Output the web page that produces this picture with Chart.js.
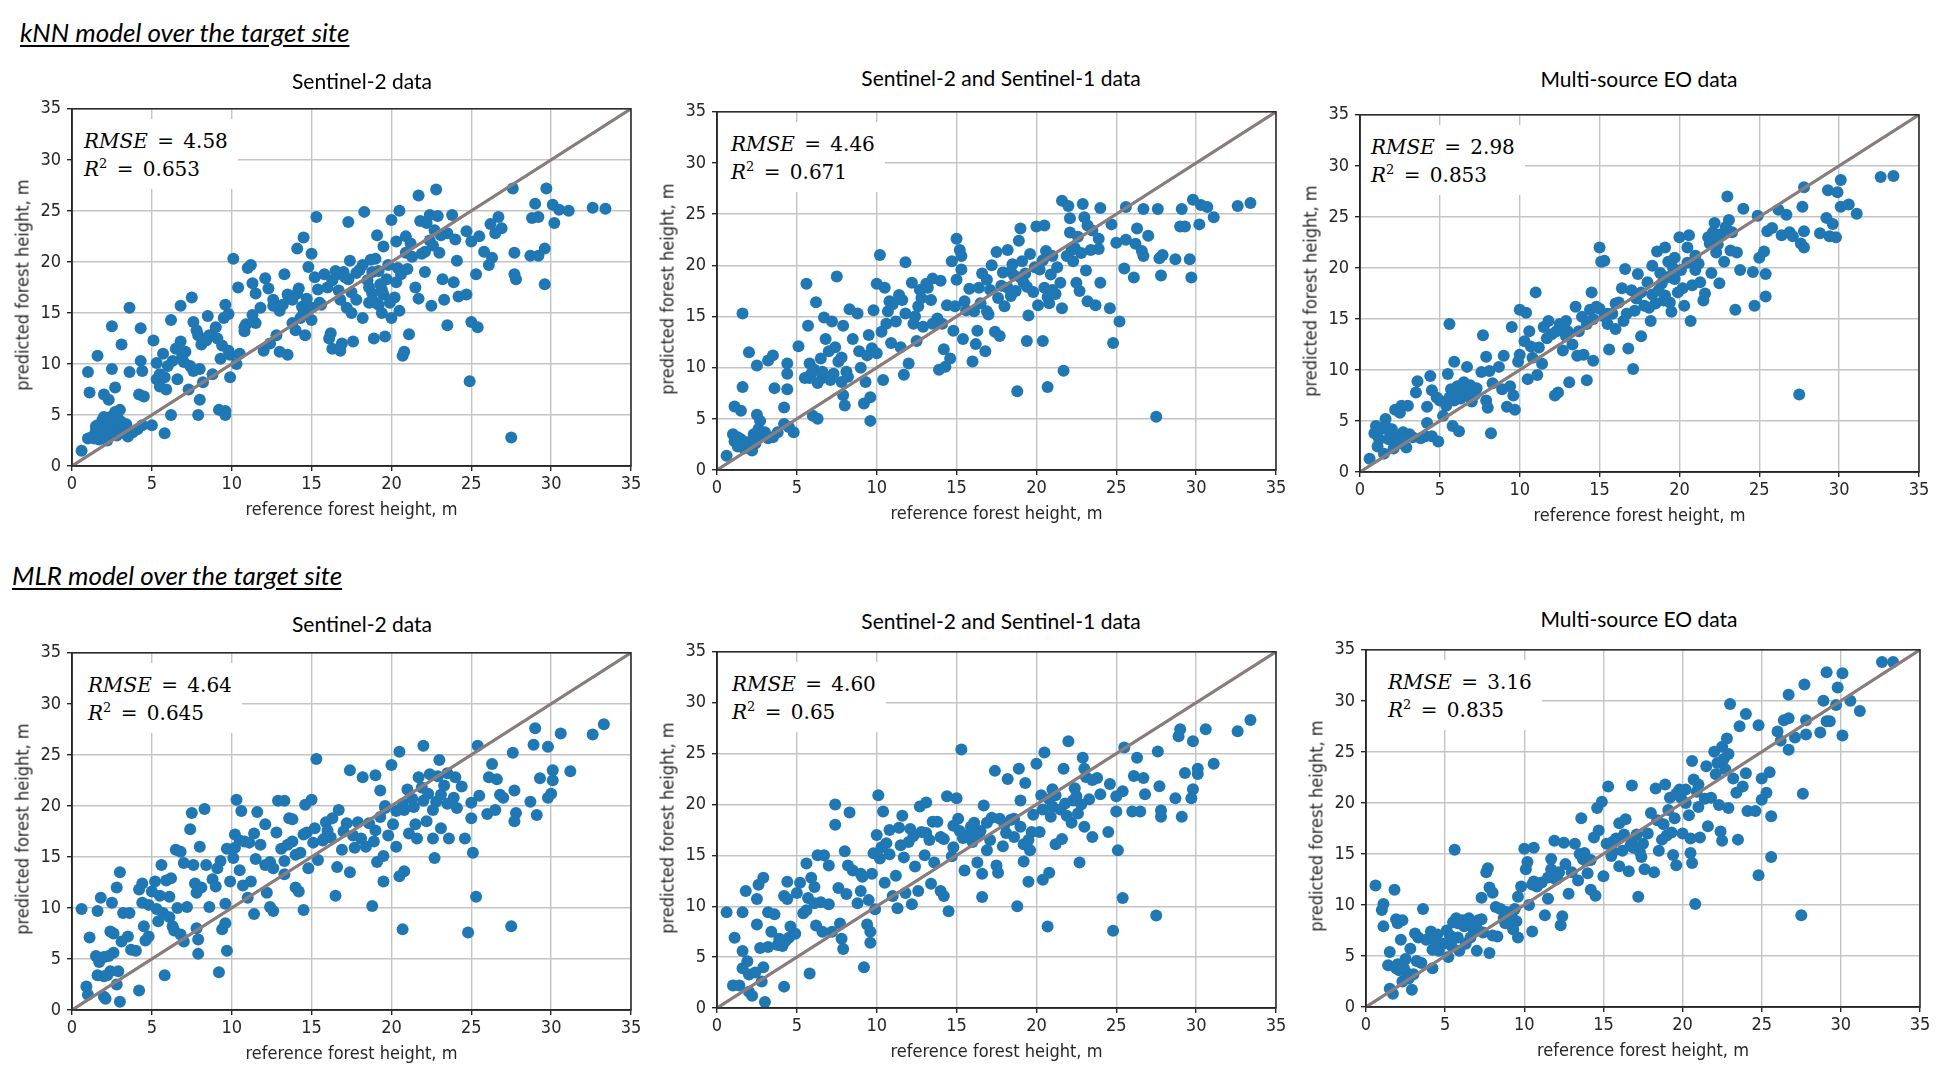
<!DOCTYPE html>
<html>
<head>
<meta charset="utf-8">
<title>Forest height: kNN and MLR models over the target site</title>
<script src="https://cdn.jsdelivr.net/npm/chart.js@4.4.1/dist/chart.umd.min.js"></script>
<style>
  html, body { margin: 0; padding: 0; background: #fff; }
  #page { position: relative; width: 1953px; height: 1078px; overflow: hidden; background: #fff; }
  .heading { position: absolute; font-family: Lato, "Open Sans", sans-serif; font-style: italic; font-size: 26px; text-decoration: underline; text-underline-offset: 3px; color: #000; white-space: nowrap; }
  .title { position: absolute; font-family: Lato, "Open Sans", sans-serif; font-size: 21px; color: #000; white-space: nowrap; transform: translate(-50%, -50%); }
  .xlabel, .ylabel { position: absolute; font-family: "DejaVu Sans Condensed", "Liberation Sans Narrow", "DejaVu Sans", sans-serif; font-size: 18px; color: #262626; white-space: nowrap; }
  .xlabel { transform: translate(-50%, -50%); }
  .ylabel { transform: translate(-50%, -50%) rotate(-90deg); }
  .panel { position: absolute; }
  .stats { position: absolute; background: #fff; font-family: "DejaVu Serif", "Liberation Serif", serif; font-size: 20px; line-height: 28px; word-spacing: 3px; color: #000; white-space: nowrap; padding: 8px 10px 6px 0; }
  .stats sup { font-size: 13px; line-height: 0; vertical-align: 8px; }
</style>
</head>
<body>
<div id="page"></div>
<script>
// predicted vs reference forest height, [reference, predicted] in m
const knnS2 = [
  [0.6,1.5],[1,2.7],[1.3,2.9],[1.5,3.5],[1.6,4],[1.8,3],[2,3.8],[2.1,4.4],[2.3,3.2],[2.5,4],[2.6,3.5],[2.8,4.2],[3,3.5],
  [1.7,2.6],[2.2,2.5],[2.9,4.6],[2.4,4.8],[1.9,4.5],[3.3,3.2],[3.5,2.9],[3.8,3.3],[4.1,3.6],[4.4,4],[5,4],[5.8,3.2],
  [2.7,5.3],[3,5.5],[2.3,6.5],[2,7],[2.7,7.7],[1,9.2],[1.1,7.2],[1.6,10.8],[2.5,9.5],[2.5,13.7],[3.1,11.9],[3.6,15.5],
  [3.6,9.2],[4.3,13.5],[4.3,10.3],[4.4,9.3],[4.2,7],[4.5,6.8],[5.1,12.3],[5.3,10.1],[5.3,8.5],[5.5,7.8],[5.7,11],
  [5.8,8.7],[5.9,7.5],[6.2,14.3],[6.2,5],[6.3,10.3],[6.5,11.5],[6.6,8.5],[6.8,12.2],[6.8,15.7],[7,10.2],[7.1,11.2],
  [7.3,7.5],[7.4,9.8],[7.5,16.5],[7.6,14.1],[7.8,13.3],[7.9,12.8],[8,9.5],[8.1,11.9],[8.2,8.2],[8,6.5],[7.9,5],
  [8.5,14.7],[8.6,12.8],[8.8,9],[9,13.6],[9.1,12.5],[9.3,10.5],[9.4,11.8],[9.6,5.4],[9.6,5],[9.2,5.5],[9.9,8.7],
  [9.9,10.9],[9.5,14.5],[9.6,15.8],[9.8,14.9],[10.1,20.3],[10.4,17.5],[10.3,10],[10.5,11],[10.8,13.6],[10.8,13.2],
  [11,19.4],[11.2,19.7],[11.3,17.9],[11.5,16.9],[11.5,14],[11.8,15.5],[12,11.3],[12.1,18.4],[12.3,17.4],[12.4,12],
  [12.6,16.3],[12.8,12.8],[13,15.2],[13.2,15.8],[13.3,18.8],[13,11.2],[13.5,10.9],[13.6,16.5],[13.8,16.3],[14,13.3],
  [14.2,17.4],[14.4,15.6],[14.5,22.4],[14.6,12.8],[14.1,21.3],[14.8,19.5],[15,20.8],[15.2,18.5],[15.3,24.4],[15,14.3],
  [15.5,16],[15.8,18.8],[16,17.5],[16.1,12.5],[16.2,13],[16.3,11.5],[16.5,19.1],[16.8,16.3],[16.8,11.3],[16.9,12],
  [17,19],[17.3,23.9],[17.4,20.1],[17.5,17],[17.5,15],[17.6,12.2],[17.8,16.3],[18,19.2],[18.2,14.5],[18.3,24.9],
  [18.5,18.2],[18.8,16.9],[18.9,12.5],[19.1,22.6],[19,20.3],[19.3,17.8],[19.4,15],[19.6,12.7],[19.5,21.5],[19.8,19.7],
  [20,24.1],[20,14.5],[20.2,16.5],[20.3,22],[20.5,25],[20.6,18.8],[20.7,10.8],[20.8,11.2],[20.9,22.5],[21,19.3],
  [21.1,12.9],[21.3,20.5],[21.5,17.5],[21.7,16.4],[21.7,26.5],[21.9,20.8],[22.1,19],[22.2,23.8],[22.5,15.7],[22.7,23.1],
  [22.8,27.1],[22.9,24.5],[23,20.9],[23.2,18.3],[23.3,16.3],[23.5,13.8],[23.5,22.8],[23.8,24.6],[23.9,18],[24,22.2],
  [24.1,20.1],[24.2,16.6],[24.7,16.8],[24.7,23],[25,22],[24.9,8.3],[25,14.1],[25.3,18.8],[25.4,13.6],[25.5,22.5],
  [25.8,21],[26.1,19.7],[26.2,23.7],[26.3,20.4],[26.5,22.8],[26.7,24.4],[26.9,23.3],[27.5,2.8],[27.6,27.2],[27.7,18.8],
  [27.7,20.9],[27.8,18.3],[28.7,20.6],[29.2,20.6],[28.8,24.3],[29.2,24.4],[29,25.7],[29.6,21.3],[29.6,17.8],[29.7,27.2],
  [30.1,25.6],[30.2,23.8],[30.5,25.1],[31.1,25],[32.6,25.3],[33.4,25.2],
  [14.5,15],[15,15.5],[13.8,14],[14.3,14.5],[15.6,15.8],[18.6,17.5],[19,16],[19.5,16.8],[19.7,18.3],[20.3,18],
  [18.8,19],[17.3,18.3],[16.7,17.2],
  [1.5,3.9],[2,4.8],[2.3,4.1],[2.6,4.6],[3.1,4.3],[2.1,3.3],[1.4,2.7],[2.8,3],[3.4,4.1],[5.5,9],[6,9.8],[6.9,10.8],
  [7.6,9.3],[8.4,12.3],[9.8,11.3],[10.9,13.9],[11.3,14.8],[12.6,15.7],[13.5,16.8],[14.1,16.9],[14.7,16.4],[15.4,17.3],
  [16.3,18.2],[16.6,18.8],[17.1,18.5],[17.8,18.9],[18.2,19.7],[18.7,20.2],[19.2,19.1],[19.4,17.3],[19.9,16],[20.4,19.4],
  [20.9,20.9],[21.2,21.8],[22.4,22.1],[22.6,21.6],[23.1,22.6],[22.1,21],[21.8,24],[22.4,24.6],[19.2,15.8],[18.6,16],
  [20.5,15.2],[17.2,15.5]
];

const knnS2S1 = [
  [0.6,1.4],[1,3.5],[1.1,2.8],[1.3,2.3],[1.5,3],[1.7,2.1],[2,2.7],[2.2,1.9],[2.3,3.5],[2.5,3.2],[2.6,4],[2.8,3.3],
  [3,3.7],[3.2,3.1],[3.5,3.2],[3.8,3.7],[4.2,4.5],[4.5,4.2],[4.8,3.7],[1.1,6.2],[1.5,5.8],[1.6,8.1],[1.6,15.3],
  [2,11.5],[2.5,10.2],[2.5,5.4],[2.7,4.8],[3.2,10.7],[3.5,11.2],[3.6,8],[4.2,6.1],[4.4,10.4],[4.4,9.4],[4.4,7.9],
  [5.1,12.1],[5.5,9],[5.6,18.2],[5.7,14.1],[5.8,10.4],[5.9,9.4],[6,5.3],[6.2,16.4],[6.3,5],[6.3,8.5],[6.5,10.9],
  [6.6,9],[6.7,14.9],[6.8,12.8],[7,11.6],[7.1,8.8],[7.2,14.5],[7.4,12],[7.5,18.9],[7.6,10.6],[7.8,11],[7.9,14.1],
  [7.9,7.3],[8,6.3],[8.1,9.6],[8.3,15.7],[8.5,12.8],[8.8,15.3],[8.9,11.6],[9,10],[9.2,6.5],[9.3,8.6],[9.5,13.2],
  [9.6,4.8],[9.6,7.1],[9.7,11.9],[9.8,15.6],[10,11.4],[10,18.2],[10.2,21],[10.3,13.5],[10.4,8.8],[10.5,17.8],
  [10.7,15.5],[10.8,16.5],[10.9,12.4],[11.2,14.5],[11.4,17.1],[11.5,12],[11.7,9.3],[11.8,15.3],[11.8,20.3],[12,10.4],
  [12.2,18.3],[12.3,14.3],[12.5,12.6],[12.6,16],[12.7,17.6],[12.9,14],[13.1,18.2],[13.4,16.6],[13.5,18.7],[13.8,14.8],
  [14,18.5],[13.9,9.8],[14.2,11.8],[14.3,10.1],[14.4,16.1],[14.6,10.9],[14.7,20.4],[14.8,13.6],[15,18.6],[15,22.6],
  [15.2,21.5],[15.3,20.9],[15.3,19.6],[15.4,12.8],[15.8,17.7],[16,10.6],[16.1,15.5],[16.2,12.3],[16.3,13.6],[16.5,16.3],
  [16.6,19.2],[16.8,11.6],[16.9,18.6],[17,15.2],[17.2,20],[17.4,13.5],[17.5,21.3],[17.7,13.1],[17.8,18],[18,16],
  [18.2,21.5],[18.4,19.4],[18.5,20.1],[18.7,17.5],[18.9,22.4],[19,23.6],[18.8,7.7],[19.2,18.3],[19.4,12.6],[19.5,15.1],
  [19.6,21.1],[19.8,17.4],[20,23.8],[20.1,16.1],[20.2,19.6],[20.4,12.6],[20.5,23.9],[20.6,21.4],[20.7,8.1],[20.8,16.3],
  [21,20.9],[21.2,17.2],[21.5,18.3],[21.6,15.8],[21.7,9.7],[21.6,26.3],[22,25.8],[22.1,24.6],[22.2,21.5],[22.3,20.4],
  [22.5,18.3],[22.6,22.8],[22.7,17.5],[22.9,26],[23,24.7],[23.1,19.5],[23.2,16.5],[23.4,21.5],[23.5,23.4],[23.7,16.1],
  [23.9,21.6],[24,25.6],[24,18.3],[23.9,22.6],[24.6,15.8],[24.7,24],[24.8,12.4],[25,22.2],[25.2,14.5],[25.5,19.7],
  [25.6,22.5],[25.6,25.7],[26.1,18.8],[26.2,22.1],[26.3,23.6],[26.6,21.4],[26.7,25.5],[26.7,20.9],[27,22.9],[27.6,25.5],
  [27.5,5.2],[27.7,20.7],[27.8,19],[27.9,21],[28.7,20.6],[29,23.8],[29.1,25.5],[29.3,23.8],[29.6,20.6],[29.7,18.8],
  [29.8,26.4],[30.2,24],[30.3,25.9],[30.7,25.7],[31.1,24.7],[32.6,25.8],[33.4,26.1],
  [15.5,16.5],[16.9,15.5],[17.6,16.8],[19.3,19.2],[20.5,17.8],[21.3,19.8],[18.4,17],[14.9,16],[13.5,14.3],
  [1.8,2.7],[2.4,2.6],[2.9,3.4],[1.3,3.2],[5.8,9],[6.1,9.8],[6.6,9.6],[7.3,9.4],[7.8,8.6],[8.2,9.1],[9.4,11.2],
  [10.6,14.3],[11,16.2],[11.6,16.6],[12.8,16.8],[13.2,17.8],[12.4,15],[14.1,14.3],[15.6,15.6],[16.4,17.8],[17.1,17.6],
  [17.9,19.3],[18.6,19],[19,18.8],[19.4,17.9],[19.9,19.8],[20.4,20.5],[20.7,16.9],[21,17.6],[21.9,20.9],[22.4,21.7],
  [22.8,21.2],[22.1,23.2],[23.2,23.9],[19.1,20.4],[18.2,17.8],[20.9,19.1]
];

const knnMulti = [
  [0.6,1.3],[0.9,3.8],[1,4.5],[1.1,2.5],[1.3,4.2],[1.5,1.8],[1.6,4.5],[1.6,5.2],[1.8,3.2],[2,4.2],[2.1,2.3],[2.2,6.1],
  [2.3,3.5],[2.5,5.8],[2.6,6.5],[2.7,3.9],[2.9,2.4],[3,6.5],[3.1,3.7],[3.3,3.4],[3.5,7.8],[3.6,8.9],[3.8,3.3],[4.1,3.5],
  [4.2,4.8],[4.2,6.4],[4.4,9.4],[4.5,8],[4.5,3.5],[4.8,7.3],[4.9,3],[5,7],[5.2,5.5],[5.4,6.5],[5.5,9.6],[5.6,14.5],
  [5.7,8.1],[5.8,4.5],[5.9,10.8],[6.1,8.4],[6.2,4],[6.3,7.2],[6.5,8.8],[6.7,10.3],[6.8,7.5],[7,6.9],[7.3,8.2],[7.6,9.8],
  [7.7,13.4],[7.9,11.3],[7.9,7],[8,6.3],[8.1,9.9],[8.2,3.8],[8.3,8.7],[8.7,10.3],[8.9,8.1],[9,11.4],[9.2,6.4],[9.4,8.4],
  [9.5,14.2],[9.6,7.5],[9.7,6.1],[10,11.5],[10,15.9],[10.3,12.8],[10.4,15.6],[10.5,9.1],[10.6,13.8],[10.8,11.2],[11,17.6],
  [11.1,9.5],[11.2,12.2],[11.4,10.6],[11.5,14.2],[11.8,14.8],[12,13.5],[12.2,7.5],[12.4,7.8],[12.5,14.5],[12.7,11.9],
  [12.9,13.3],[13.1,8.8],[13.3,12.5],[13.5,16.2],[13.6,11.4],[13.9,15.2],[14,11.5],[14.2,9],[14.2,14.5],[14.5,17.6],
  [14.6,10.9],[14.8,16.2],[15,22],[15.1,20.6],[15.3,20.7],[15.5,14.5],[15.6,12],[15.8,15.5],[16,14],[16.2,16.6],[16.4,18],
  [16.5,14.8],[16.6,19.9],[16.8,12.1],[17,17.8],[17.1,10.1],[17.2,15.8],[17.4,19.4],[17.6,13.3],[17.8,16.3],[18,18.6],
  [18.2,14.8],[18.3,20.2],[18.5,16.5],[18.6,21.6],[18.9,18.5],[19,16.8],[19.1,22],[19.3,19.1],[19.5,15.7],[19.7,21],
  [19.9,17.6],[20,23],[20.1,19.8],[20.3,16.3],[20.5,22],[20.6,23.2],[20.7,14.8],[20.8,18.3],[21,19.8],[21.2,20.4],
  [21.5,16.8],[21.6,17.5],[21.8,23],[22,19.5],[22.2,24.4],[22.3,21.5],[22.5,18.5],[22.6,23.3],[22.8,20.6],[23,27],
  [23.1,24.7],[23.3,23.5],[23.5,15.9],[23.6,21.5],[23.8,19.8],[24,25.8],[24.6,19.6],[24.7,16.3],[24.9,25.1],[25,21],
  [25.3,21.6],[25.4,19.4],[25.4,17.2],[25.5,23.6],[25.8,23.9],[26.2,25.7],[26.4,23.2],[26.7,25.2],[26.9,23.5],[27.1,23.1],
  [27.6,22.4],[27.7,26],[27.8,27.9],[27.8,23.6],[27.8,22],[28.8,23.4],[29.2,24.9],[29.3,27.6],[29.4,23.1],[29.6,24.3],
  [29.8,23],[29.9,27.4],[30.1,28.6],[30.1,26],[30.6,26.2],[31.1,25.3],[32.6,28.9],[33.4,29],[27.5,7.6],
  [16,16.5],[17.3,17],[19.6,20],[18.8,19.5],[22,22.7],[21,21.2],[14.6,15],[13,13.8],[15.5,15.5],
  [1.2,3.2],[1.9,3.7],[2.4,2.8],[2.8,3.3],[5.6,7.3],[6,7.8],[6.6,7.7],[7.2,7.6],[6.9,8.5],[5.9,7],[9.9,10.8],[10.7,12.3],
  [11.7,13.1],[12.3,13.8],[12.9,14.8],[13.7,13.8],[14.4,15.9],[15,16],[15.3,15.2],[16.7,15.5],[17.6,17.6],[18.3,17.4],
  [18.7,17.8],[19.1,17.3],[19.3,20.6],[19.7,18.9],[20.2,18],[20.5,20.5],[21.3,18.6],[22.1,23.5],[22.4,22.3],[22.9,24],
  [23.2,21.7],[21.9,22.4],[19.4,16.6],[18.1,16.1]
];

const mlrS2 = [
  [0.6,9.9],[0.9,2.3],[1,1.5],[1.1,7.1],[1.5,5.3],[1.6,3.4],[1.6,9.7],[1.7,4.7],[1.8,11],[2,3.3],[2,1.3],[2.1,1.1],
  [2.2,3.4],[2.3,5.3],[2.4,7.7],[2.5,10.5],[2.6,5.6],[2.6,7.5],[2.8,12],[2.8,2.5],[2.9,3.8],[3,13.5],[3,0.8],[3.1,6.7],
  [3.2,9.5],[3.5,7.2],[3.6,9.5],[3.7,5.9],[4,5.8],[4.2,1.9],[4.2,11.8],[4.4,12.4],[4.4,10.5],[4.5,8.2],[4.6,6.8],
  [4.8,7.2],[5,11.6],[5.2,12.6],[5.3,9.9],[5.4,8.7],[5.6,14.2],[5.7,9.5],[5.8,3.4],[5.9,12.7],[6.1,11.1],[6.2,12.9],
  [6.3,8.2],[6.4,7.8],[6.5,15.7],[6.6,10],[6.8,15.5],[6.8,7.4],[7,6.7],[7,14.4],[7.2,10.1],[7.4,17.7],[7.5,19.3],
  [7.6,14.2],[7.7,12.4],[7.8,11.5],[7.9,6.9],[7.8,8],[7.9,5.5],[8,16],[8.1,12],[8.3,19.7],[8.4,14.2],[8.6,10.1],
  [8.8,12.8],[9,12.1],[9.2,3.7],[9.3,14.6],[9.4,7.9],[9.6,8.5],[9.6,10.4],[9.7,5.8],[9.7,15.8],[9.9,12.6],[10.1,14.9],
  [10.2,17.2],[10.3,20.6],[10.5,13.7],[10.6,19.5],[10.7,12.2],[10.8,16.5],[11,11],[11.2,12.6],[11.4,17.3],[11.4,9.4],
  [11.5,14.8],[11.8,16.2],[11.6,19.4],[12.1,18.2],[12.2,11.5],[12.4,14.5],[12.4,10.1],[12.6,13.9],[12.6,9.7],[12.8,17.4],
  [12.9,20.5],[13.3,20.5],[13.1,15.8],[13.3,13.3],[13.5,16.2],[13.6,18.8],[13.8,18.7],[14,12],[14.2,11.6],[14.3,15.4],
  [14.5,9.8],[14.6,20.1],[14.7,17.4],[14.8,13.9],[15,20.6],[15.1,16.4],[15.3,24.6],[15.4,14.7],[15.7,16.6],[15.9,18.4],
  [16.2,16.9],[16.5,11.2],[16.7,19.6],[16.6,14],[16.9,15.7],[17.2,18.3],[17.4,13.5],[17.4,23.5],[17.7,15.9],[17.9,18.4],
  [18.2,22.8],[18.4,16],[18.8,10.2],[19,23],[19,17.6],[19.1,14.5],[19.3,21.5],[19.5,12.6],[19.5,15.1],[19.6,20],[20,24],
  [20.1,18.2],[20.3,16],[20.5,25.3],[20.5,13.1],[20.7,7.9],[20.8,13.6],[20.8,19.6],[21,21.6],[21.1,17.3],[21.5,18.2],
  [21.6,16.8],[21.7,22.8],[22,20.5],[22,25.9],[22.2,18.5],[22.4,23.1],[22.6,16.8],[22.7,14.9],[22.8,20.4],[23,24.5],
  [23.1,17.8],[23.3,22],[23.5,23.2],[23.6,16.8],[23.9,20.8],[24,22.8],[24.4,21.9],[24.6,16.8],[24.8,7.6],[25,18.8],
  [25,20.3],[25.1,15.4],[25.3,11.1],[25.4,25.9],[25.5,21],[26,19.2],[26.1,22.8],[26.3,24.1],[26.5,19.6],[26.6,22.6],
  [26.8,21.1],[27,20.8],[27.5,8.2],[27.6,25.2],[27.7,21.5],[27.8,19.3],[27.7,18.5],[28.7,20.4],[28.9,26],[29,27.6],
  [29.1,19.1],[29.3,22.7],[29.8,20.8],[29.8,25.8],[30,21.2],[30.1,22.5],[30.1,23.5],[30.6,27.1],[31.2,23.4],[32.6,27],
  [33.3,28],
  [15.8,16.8],[17,17.5],[18.6,18.3],[19.6,19.8],[21.3,20.7],[14,15.2],[13.3,14.6],
  [12.1,14.2],[13.8,16.5],[14.5,17.2],[15.2,17.8],[16,17.6],[16.3,18.8],[17.6,17.1],[18.1,16.8],[18.9,16.5],[19.3,18.9],
  [19.8,17.1],[20.3,19.5],[20.7,20.2],[21.4,19.9],[21.9,21.8],[22.3,21.2],[22.6,19.6],[23.1,21.1],[22.9,22.9],[11.1,16.4],
  [10.2,15.9],[9.1,13.9],[6.1,9.1],[5.5,11.2],[4.8,10.3],[2,5.2],[2.4,3.8],[10.5,16.6],[23.5,20.2],[24.1,19.8]
];

const mlrS2S1 = [
  [0.6,9.4],[1,2.2],[1.1,6.9],[1.4,2.2],[1.6,5.6],[1.6,3.9],[1.6,9.4],[1.8,11.5],[1.9,4.6],[2,3.3],[2,1.6],[2.2,1.2],
  [2.4,3.5],[2.5,10.7],[2.5,8.2],[2.6,12.1],[2.7,5.9],[2.8,2.6],[2.9,12.8],[2.9,4],[3,0.6],[3.2,9.4],[3.2,6],[3.4,7.5],
  [3.6,9.2],[3.8,6.2],[4.1,6.1],[4.2,2.1],[4.2,11],[4.4,12.4],[4.4,10.7],[4.5,6.9],[4.6,8],[4.9,7.3],[5,11.3],[5.2,12.3],
  [5.4,9.3],[5.6,14.2],[5.7,10.8],[5.8,3.4],[5.9,12.8],[6.1,11.9],[6.2,8.1],[6.3,15],[6.5,10.4],[6.6,7.5],[6.7,15],
  [7,14],[7,10.2],[7.2,7.5],[7.4,18],[7.4,20],[7.6,11.8],[7.7,8.3],[7.8,6.8],[7.9,5.8],[8,15.4],[8.1,11.2],[8.2,14],
  [8.3,19.2],[8.5,13.5],[8.8,10.3],[9,13.2],[9,11.5],[9.2,4],[9.4,8.2],[9.5,10.6],[9.6,7.5],[9.6,6.4],[9.7,13.2],
  [9.8,15.2],[9.9,9.7],[10,17],[10.1,20.9],[10.2,14.7],[10.4,19.3],[10.5,12.3],[10.6,16.2],[10.8,17.5],[11,11],[11.2,13],
  [11.3,9.8],[11.4,17.7],[11.6,18.9],[11.7,14.8],[11.8,11.3],[12,16.3],[12.1,17.6],[12.2,10.2],[12.4,13.9],[12.6,11.5],
  [12.7,19.8],[12.8,17.3],[13.1,20.2],[13,15],[13.3,16.5],[13.4,12.2],[13.5,18.3],[13.8,18.3],[14,11.5],[14.2,11],
  [14.2,16.6],[14.4,20.8],[14.5,9.5],[14.7,14.9],[14.8,17.9],[15,20.6],[15.1,18.6],[15.3,25.4],[15.4,16.7],[15.5,13.5],
  [15.7,17],[16,16.3],[16.1,18.2],[16.3,14.3],[16.6,10.9],[16.6,13.2],[16.7,19.9],[16.9,15.5],[17.2,18.7],[17.4,23.3],
  [17.5,14],[17.6,13.3],[17.9,15.9],[18.2,22.5],[18.4,18.5],[18.6,16.8],[18.8,10],[18.9,23.5],[19,20.4],[19,17.8],
  [19.2,14.4],[19.3,22.1],[19.5,12.4],[19.6,15.5],[19.8,19],[20,24],[20.2,17.3],[20.4,12.6],[20.5,25.1],[20.7,8],
  [20.8,13.3],[20.8,20.5],[21,21.5],[21.2,16.1],[21.6,16.6],[21.7,23.5],[21.8,20.1],[22,26.2],[22.2,18.2],[22.4,21.6],
  [22.6,19.1],[22.7,14.3],[22.9,24.6],[23,17.8],[23.1,22.7],[23.3,20.5],[23.5,16.8],[23.8,22.6],[24,21],[24.5,17.3],
  [24.6,22],[24.8,7.6],[25,19.3],[25,20.8],[25.1,15.5],[25.4,10.8],[25.5,25.6],[25.4,21.3],[26,19.3],[26.1,22.8],
  [26.3,24.6],[26.5,19.3],[26.7,22.6],[26.8,21],[27.5,9.1],[27.6,25.2],[27.7,21.8],[27.8,19.4],[27.8,18.8],[28.7,20.6],
  [28.9,26.7],[29,27.4],[29.1,18.8],[29.3,23.1],[29.7,20.6],[29.8,21.5],[29.8,26.2],[30.1,23],[30.1,23.5],[30.6,27.4],
  [31.1,24],[32.6,27.2],[33.4,28.3],
  [16.5,17.4],[18,18],[19.5,16.5],[21,19.8],[14.8,15.8],[13.6,14.3],[20.4,19.5],[22.3,20.4],
  [10.8,15.1],[11.5,16],[12.3,16.9],[13.1,17.2],[14,16.8],[15.2,17.4],[15.9,17.8],[16.3,16.9],[17.1,16.5],[17.7,18.6],
  [18.1,17.2],[18.6,18.6],[19.2,16.1],[19.7,17.3],[20.3,20.9],[20.9,18.8],[21.5,19.5],[21.9,18.9],[22.5,20.8],[22.8,20],
  [23,23.5],[23.5,22.4],[9.1,12.9],[6.1,10.3],[5.6,9.6],[4.3,6.6],[3.9,6.8],[10.3,15.8],[21.2,20.9],[16.9,18.2]
];

const mlrMulti = [
  [0.6,11.9],[1,9.5],[1.1,10.1],[1.1,7.9],[1.4,4.1],[1.5,5.4],[1.5,1.8],[1.7,1.3],[1.8,11.5],[1.9,8.6],[1.9,3.8],
  [2,8.2],[2.1,3.6],[2.2,6.6],[2.3,2.5],[2.3,8.5],[2.5,4.7],[2.6,3.3],[2.8,5.7],[2.9,1.7],[3,3.2],[3.1,7.2],[3.3,6.8],
  [3.5,4.3],[3.6,9.6],[3.8,6.6],[4.1,7.4],[4.2,3.8],[4.2,5.6],[4.5,7.1],[4.6,5.5],[4.9,6.2],[5.1,7.5],[5.2,4.9],[5.4,6],
  [5.5,8.3],[5.6,15.4],[5.7,8.7],[5.8,6.8],[5.9,5.5],[6.1,8.5],[6.3,6.2],[6.5,8.7],[6.6,6.8],[6.8,7.6],[7,5.5],[7.1,8.5],
  [7.3,10.7],[7.4,7.3],[7.6,13.2],[7.7,13.6],[7.8,5.3],[7.8,11.7],[8,7],[8,11.2],[8.2,9.8],[8.3,6.9],[8.5,9.6],[8.7,8.7],
  [8.9,9.3],[9.1,8.1],[9.3,7.6],[9.5,8.4],[9.6,6.8],[9.6,10.8],[9.8,11.8],[10,15.5],[10.1,13.5],[10.2,14.2],[10.3,10],
  [10.5,12],[10.5,7.4],[10.6,15.6],[10.8,11.8],[11.1,12.2],[11.3,9],[11.5,10.6],[11.7,13.5],[11.7,14.5],[11.9,16.3],
  [12.1,12.6],[12.3,8],[12.4,8.9],[12.5,16.1],[12.6,14],[12.8,11.1],[13,13.2],[13.2,16],[13.4,12.4],[13.5,15],[13.6,18.5],
  [13.7,14.5],[14,13.1],[14.2,11.5],[14.4,16.6],[14.5,10.9],[14.6,19.5],[14.7,17.3],[14.9,20.1],[15,12.8],[15.2,16],
  [15.3,21.6],[15.5,14.8],[15.8,16.5],[16,13.8],[16,18],[16.2,15.3],[16.4,18.4],[16.6,13.3],[16.8,21.7],[16.9,15.6],
  [17.1,16.9],[17.2,10.8],[17.4,14.7],[17.6,13.5],[17.8,17],[18,19],[18.2,13.2],[18.3,21.4],[18.5,15.3],[18.8,17.9],
  [18.9,21.8],[19,16.8],[19.2,20.5],[19.4,14.9],[19.5,18.5],[19.6,13.9],[19.8,21.3],[20,17],[20.2,20],[20.5,16.5],
  [20.5,15.1],[20.6,14.1],[20.6,24.1],[20.7,22.3],[20.8,10.1],[21,19.6],[21.1,16.6],[21.5,23.6],[21.6,17.7],[21.8,20.5],
  [22,25],[22.1,22.8],[22.3,19.8],[22.4,17.2],[22.5,16.3],[22.6,24.3],[22.8,26.3],[22.9,19.5],[23,29.7],[23.2,22.4],
  [23.4,21],[23.5,16.4],[23.6,27.5],[23.8,21.6],[24,28.7],[24,22.9],[24.1,19.2],[24.6,19.2],[24.8,27.6],[24.8,12.9],
  [25,22.4],[25,20.3],[25.3,21],[25.5,23],[25.6,14.7],[25.6,18.7],[26,27],[26.2,26.1],[26.4,28.1],[26.7,28.3],[26.7,30.6],
  [26.7,25.2],[27.1,26.4],[27.5,9],[27.6,20.9],[27.7,31.6],[27.8,26.7],[27.8,28.1],[28.7,26.9],[28.9,30],[29.1,28],
  [29.1,32.8],[29.3,28],[29.7,29.6],[29.8,31.3],[30.1,32.7],[30.1,26.6],[30.6,30],[31.2,29],[32.6,33.8],[33.3,33.8],
  [21,21.8],[19.9,20.5],[16.7,15.8],[17.5,16],[15.6,15.2],[13.9,14.3],[12,12.5],[10.6,12.3],
  [2,4.2],[2.4,3.8],[2.7,2.8],[3.2,4.5],[4.4,6.4],[5.3,7],[5.8,8.2],[6.2,7.9],[6.6,8.4],[7,7.7],[7.3,8.6],[8.8,8.2],
  [9.2,9],[9.4,9.6],[11.5,12.7],[12.2,13.2],[13.8,15.1],[14.2,14.4],[15.6,16.2],[16.3,16.9],[16.8,16.3],[17.3,15.2],
  [18.4,18.3],[19.1,19.3],[19.6,20.9],[20.2,21.3],[20.9,21.1],[21.4,20.4],[22.2,23.9],[22.5,25.5],[22.9,24.8],[22.7,23.3],
  [19.3,17.1],[18.7,16.4],[20.4,18.8]
];

const panelSeries = [knnS2, knnS2S1, knnMulti, mlrS2, mlrS2S1, mlrMulti];
const panelTitles = ['Sentinel-2 data', 'Sentinel-2 and Sentinel-1 data', 'Multi-source EO data',
                     'Sentinel-2 data', 'Sentinel-2 and Sentinel-1 data', 'Multi-source EO data'];
const rmseValues = ['4.58', '4.46', '2.98', '4.64', '4.60', '3.16'];
const r2Values = ['0.653', '0.671', '0.853', '0.645', '0.65', '0.835'];
const axisTicks = [0, 5, 10, 15, 20, 25, 30, 35];
const identityLine = [{x: 0, y: 0}, {x: 35, y: 35}];

// plot-area boxes on the page and text offsets
const layout = [
  {l: 72, t: 104, r: 631, b: 466, tx: 362, ty: 80, sx: 11},
  {l: 717, t: 107, r: 1276, b: 470, tx: 1001, ty: 77, sx: 13},
  {l: 1360, t: 110, r: 1919, b: 472, tx: 1639, ty: 78, sx: 10},
  {l: 72, t: 648, r: 631, b: 1010, tx: 362, ty: 623, sx: 15},
  {l: 717, t: 647, r: 1276, b: 1008, tx: 1001, ty: 620, sx: 14},
  {l: 1366, t: 645, r: 1920, b: 1007, tx: 1639, ty: 618, sx: 21}
];

const page = document.getElementById('page');
const tickFont = {family: '"DejaVu Sans Condensed", "Liberation Sans Narrow", "DejaVu Sans", sans-serif', size: 18};
const pad = {l: 64, t: 12, r: 16, b: 44};

function addText(cls, text, x, y) {
  const el = document.createElement('div');
  el.className = cls;
  el.textContent = text;
  el.style.left = x + 'px';
  el.style.top = y + 'px';
  page.appendChild(el);
  return el;
}

// closes the axes box on the top and right sides
const frameBox = {
  id: 'frameBox',
  afterDraw(chart) {
    const a = chart.chartArea;
    const ctx = chart.ctx;
    ctx.save();
    ctx.strokeStyle = '#262626';
    ctx.lineWidth = 1.5;
    ctx.strokeRect(a.left, a.top, a.right - a.left, a.bottom - a.top);
    ctx.restore();
  }
};

function axisOptions(isX) {
  return {
    type: 'linear',
    min: 0,
    max: 35,
    afterBuildTicks: s => { s.ticks = axisTicks.map(v => ({value: v})); },
    afterFit: s => { if (isX) s.height = pad.b; else s.width = pad.l; },
    ticks: {
      font: tickFont,
      color: '#262626',
      padding: isX ? 3 : 6,
      maxRotation: 0,
      autoSkip: false
    },
    grid: {
      color: '#c4c4c4',
      lineWidth: 1.4,
      tickColor: '#262626',
      tickLength: 5
    },
    border: {color: '#262626', width: 1.5}
  };
}

function renderPanel(i) {
  const box = layout[i];
  const w = box.r - box.l, h = box.b - box.t;

  const holder = document.createElement('div');
  holder.className = 'panel';
  holder.style.left = (box.l - pad.l) + 'px';
  holder.style.top = (box.t - pad.t) + 'px';
  const canvas = document.createElement('canvas');
  canvas.width = w + pad.l + pad.r;
  canvas.height = h + pad.t + pad.b;
  holder.appendChild(canvas);
  page.appendChild(holder);

  new Chart(canvas.getContext('2d'), {
    type: 'scatter',
    data: {
      datasets: [
        {
          type: 'line',
          data: identityLine,
          borderColor: '#e86a6a',
          borderWidth: 3,
          pointRadius: 0,
          order: 2
        },
        {
          type: 'line',
          data: identityLine,
          borderColor: '#808080',
          borderWidth: 2.8,
          pointRadius: 0,
          order: 1
        },
        {
          data: panelSeries[i].map(p => ({x: p[0], y: p[1]})),
          backgroundColor: '#1f77b4',
          borderWidth: 0,
          pointRadius: 6,
          pointHoverRadius: 6,
          order: 3
        }
      ]
    },
    options: {
      responsive: false,
      animation: false,
      events: [],
      layout: {padding: {left: 0, top: pad.t, right: pad.r, bottom: 0}},
      plugins: {legend: {display: false}, tooltip: {enabled: false}},
      scales: {x: axisOptions(true), y: axisOptions(false)}
    },
    plugins: [frameBox]
  });

  addText('title', panelTitles[i], box.tx, box.ty);
  addText('xlabel', 'reference forest height, m', (box.l + box.r) / 2, box.b + 42);
  addText('ylabel', 'predicted forest height, m', box.l - 50, (box.t + box.b) / 2);

  const stats = document.createElement('div');
  stats.className = 'stats';
  stats.style.left = (box.l + 1) + 'px';
  stats.style.top = (box.t + 15) + 'px';
  stats.style.paddingLeft = box.sx + 'px';
  stats.innerHTML = '<i>RMSE</i> = ' + rmseValues[i] + '<br><i>R</i><sup>2</sup> = ' + r2Values[i];
  page.appendChild(stats);
}

addText('heading', 'kNN model over the target site', 20, 16);
addText('heading', 'MLR model over the target site', 12, 559);

for (let i = 0; i < panelSeries.length; i++) {
  renderPanel(i);
}
</script>
</body>
</html>
